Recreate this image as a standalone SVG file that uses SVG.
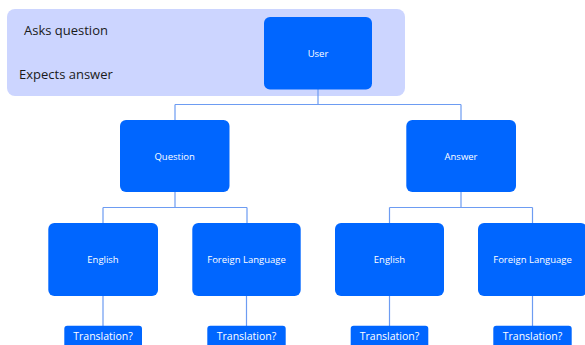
<svg xmlns="http://www.w3.org/2000/svg" width="585" height="345" viewBox="0 0 585 345">
<style>
.box{fill:#0066ff}
.lbl{fill:#ffffff;font-family:"Open Sans","Liberation Sans",sans-serif;font-size:9.5px;text-anchor:middle;dominant-baseline:central}
.tl{fill:#ffffff;font-family:"Open Sans","Liberation Sans",sans-serif;font-size:10.5px;text-anchor:middle;dominant-baseline:central}
.side{fill:#1a1a1a;font-family:"Open Sans","Liberation Sans",sans-serif;font-size:13px}
.conn{fill:none;stroke:#6d9cf2;stroke-width:1.2}
</style>
<rect x="7" y="9" width="398" height="87" rx="8" fill="#ccd5ff"/>
<text class="side" x="24" y="35">Asks question</text>
<text class="side" x="19" y="79">Expects answer</text>
<g id="connectors">
<path class="conn" d="M318 89V104.5M175 104.5H461M175 104.5V120M461 104.5V120"/>
<path class="conn" d="M175 192V207.5M103 207.5H247M103 207.5V223M247 207.5V223"/>
<path class="conn" d="M461 192V207.5M389.5 207.5H532.5M389.5 207.5V223M532.5 207.5V223"/>
<path class="conn" d="M103 296V326M246.5 296V326M389.5 296V326M532.5 296V326"/>
</g>
<g id="user"><rect class="box" x="264" y="17" width="108" height="72.5" rx="6"/><text class="lbl" x="318" y="53">User</text></g>
<g id="question"><rect class="box" x="120" y="120" width="109.5" height="72" rx="6"/><text class="lbl" x="174.7" y="156">Question</text></g>
<g id="answer"><rect class="box" x="406.3" y="120" width="109.7" height="72" rx="6"/><text class="lbl" x="461" y="156">Answer</text></g>
<g id="english1"><rect class="box" x="48.3" y="223" width="109.7" height="73" rx="6"/><text class="lbl" x="103" y="259">English</text></g>
<g id="foreign1"><rect class="box" x="192.3" y="223" width="108.4" height="73" rx="6"/><text class="lbl" x="246.5" y="259">Foreign Language</text></g>
<g id="english2"><rect class="box" x="335" y="223" width="109" height="73" rx="6"/><text class="lbl" x="389.5" y="259">English</text></g>
<g id="foreign2"><rect class="box" x="478" y="223" width="109" height="73" rx="6"/><text class="lbl" x="532.5" y="259">Foreign Language</text></g>
<g id="translation1"><rect class="box" x="64.3" y="325.7" width="77.7" height="26" rx="3"/><text class="tl" x="103" y="335.5">Translation?</text></g>
<g id="translation2"><rect class="box" x="207.3" y="325.7" width="78.4" height="26" rx="3"/><text class="tl" x="246.5" y="335.5">Translation?</text></g>
<g id="translation3"><rect class="box" x="350.7" y="325.7" width="77.6" height="26" rx="3"/><text class="tl" x="389.5" y="335.5">Translation?</text></g>
<g id="translation4"><rect class="box" x="493.3" y="325.7" width="78.4" height="26" rx="3"/><text class="tl" x="532.5" y="335.5">Translation?</text></g>
</svg>
